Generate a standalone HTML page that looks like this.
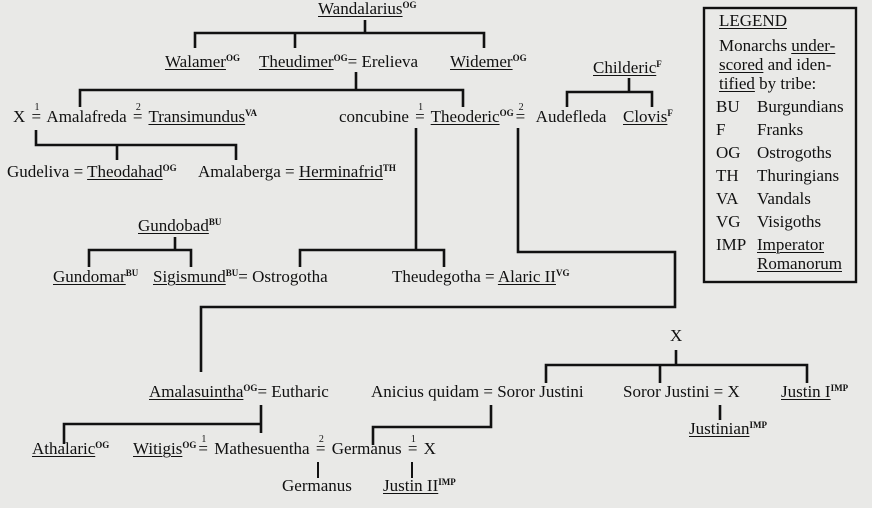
<!DOCTYPE html>
<html><head><meta charset="utf-8"><style>
html,body{margin:0;padding:0}
body{width:872px;height:508px;background:#e9e9e7;position:relative;overflow:hidden;font-family:"Liberation Serif",serif;font-size:17px;color:#111}
.t{position:absolute;white-space:nowrap;line-height:18px}
u{text-decoration:underline;text-underline-offset:2px;text-decoration-thickness:1.4px}
sup{font-size:9px;font-weight:bold;vertical-align:6px;line-height:0}
.m{position:relative;display:inline-block;margin:0 2px}
.m i{position:absolute;font-style:normal;font-size:10px;left:3px;top:-9px}
svg{position:absolute;left:0;top:0}
</style></head><body>
<svg width="872" height="508" stroke="#111" stroke-width="2.6" fill="none">
<path d="M365 20V33M195 48V33H484V48M295 33V48"/>
<path d="M356 72V90M80 107V90H463V107"/>
<path d="M629 78V92M567 107V92H652V107"/>
<path d="M36 130V145H236V160M117 145V160"/>
<path d="M416 128V250M300 267V250H444V267"/>
<path d="M175 237V250M89 267V250H191V267"/>
<path d="M518 128V252H675V307H201V372"/>
<path d="M676 350V365M546 383V365H807V383M660 365V383"/>
<path d="M261 405V433M64 444V424H261"/>
<path d="M491 405V427H373V445"/>
<path d="M720 405V420"/>
<path d="M318 462V478M412 462V478" stroke-width="2"/>
<rect x="704" y="8" width="152" height="274" stroke-width="2.4"/>
</svg>
<div class="t" style="left:318px;top:0px"><u>Wandalarius</u><sup>OG</sup></div>
<div class="t" style="left:165px;top:53px"><u>Walamer</u><sup>OG</sup></div>
<div class="t" style="left:259px;top:53px"><u>Theudimer</u><sup>OG</sup>= Erelieva</div>
<div class="t" style="left:450px;top:53px"><u>Widemer</u><sup>OG</sup></div>
<div class="t" style="left:593px;top:59px"><u>Childeric</u><sup>F</sup></div>
<div class="t" style="left:13px;top:108px">X <span class="m">=<i>1</i></span> Amalafreda <span class="m">=<i>2</i></span> <u>Transimundus</u><sup>VA</sup></div>
<div class="t" style="left:339px;top:108px">concubine <span class="m">=<i>1</i></span> <u>Theoderic</u><sup>OG</sup><span class="m">=<i>2</i></span> &nbsp;Audefleda</div>
<div class="t" style="left:623px;top:108px"><u>Clovis</u><sup>F</sup></div>
<div class="t" style="left:7px;top:163px">Gudeliva = <u>Theodahad</u><sup>OG</sup></div>
<div class="t" style="left:198px;top:163px">Amalaberga = <u>Herminafrid</u><sup>TH</sup></div>
<div class="t" style="left:138px;top:217px"><u>Gundobad</u><sup>BU</sup></div>
<div class="t" style="left:53px;top:268px"><u>Gundomar</u><sup>BU</sup></div>
<div class="t" style="left:153px;top:268px"><u>Sigismund</u><sup>BU</sup>= Ostrogotha</div>
<div class="t" style="left:392px;top:268px">Theudegotha = <u>Alaric II</u><sup>VG</sup></div>
<div class="t" style="left:670px;top:327px">X</div>
<div class="t" style="left:149px;top:383px"><u>Amalasuintha</u><sup>OG</sup>= Eutharic</div>
<div class="t" style="left:371px;top:383px">Anicius quidam = Soror Justini</div>
<div class="t" style="left:623px;top:383px">Soror Justini = X</div>
<div class="t" style="left:781px;top:383px"><u>Justin I</u><sup>IMP</sup></div>
<div class="t" style="left:689px;top:420px"><u>Justinian</u><sup>IMP</sup></div>
<div class="t" style="left:32px;top:440px"><u>Athalaric</u><sup>OG</sup></div>
<div class="t" style="left:133px;top:440px"><u>Witigis</u><sup>OG</sup><span class="m">=<i>1</i></span> Mathesuentha <span class="m">=<i>2</i></span> Germanus <span class="m">=<i>1</i></span> X</div>
<div class="t" style="left:282px;top:477px">Germanus</div>
<div class="t" style="left:383px;top:477px"><u>Justin II</u><sup>IMP</sup></div>
<div class="t" style="left:719px;top:12px"><u>LEGEND</u></div>
<div class="t" style="left:719px;top:37px">Monarchs <u>under-</u></div>
<div class="t" style="left:719px;top:56px"><u>scored</u> and iden-</div>
<div class="t" style="left:719px;top:75px"><u>tified</u> by tribe:</div>
<div class="t" style="left:716px;top:98px">BU</div><div class="t" style="left:757px;top:98px">Burgundians</div>
<div class="t" style="left:716px;top:121px">F</div><div class="t" style="left:757px;top:121px">Franks</div>
<div class="t" style="left:716px;top:144px">OG</div><div class="t" style="left:757px;top:144px">Ostrogoths</div>
<div class="t" style="left:716px;top:167px">TH</div><div class="t" style="left:757px;top:167px">Thuringians</div>
<div class="t" style="left:716px;top:190px">VA</div><div class="t" style="left:757px;top:190px">Vandals</div>
<div class="t" style="left:716px;top:213px">VG</div><div class="t" style="left:757px;top:213px">Visigoths</div>
<div class="t" style="left:716px;top:236px">IMP</div><div class="t" style="left:757px;top:236px"><u>Imperator</u></div>
<div class="t" style="left:757px;top:255px"><u>Romanorum</u></div>
</body></html>
